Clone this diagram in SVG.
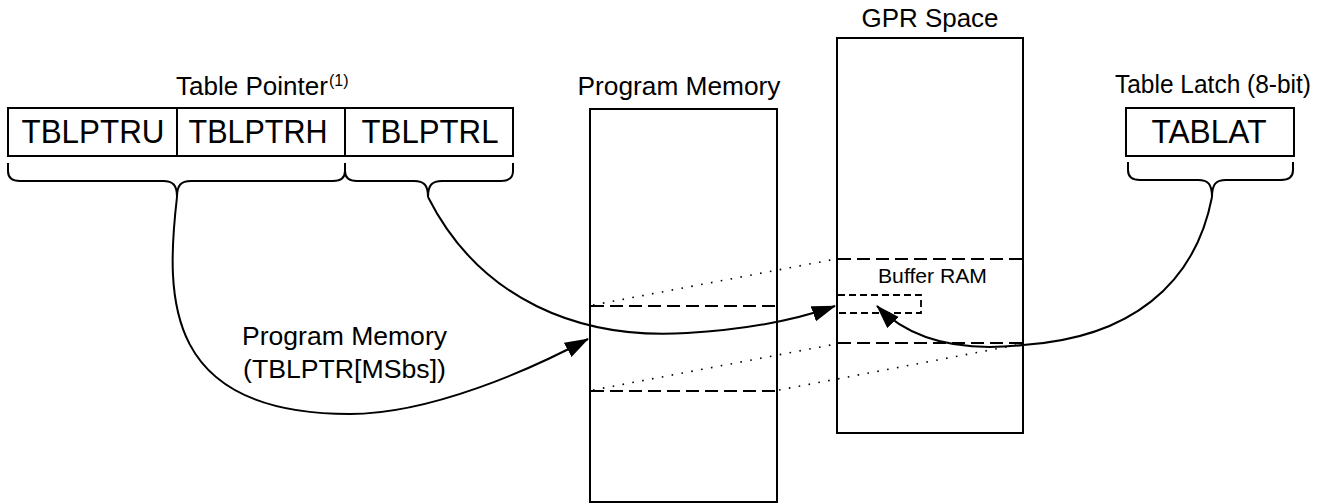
<svg xmlns="http://www.w3.org/2000/svg" width="1322" height="504" viewBox="0 0 1322 504">
<style>
  text { font-family: "Liberation Sans", Arial, Helvetica, sans-serif; fill: #000; }
  .lbl { font-size: 26px; }
  .reg { font-size: 33px; text-anchor: middle; }
  .box { fill: #fff; stroke: #000; stroke-width: 2; }
  .brace { fill: none; stroke: #000; stroke-width: 2; }
  .dash { stroke: #000; stroke-width: 2; stroke-dasharray: 13 6; fill: none; }
  .sdash { stroke: #000; stroke-width: 1.8; stroke-dasharray: 7 4; fill: none; }
  .dot { stroke: #000; stroke-width: 1.6; stroke-dasharray: 1.6 8.4; fill: none; }
  .conn { fill: none; stroke: #000; stroke-width: 2; }
</style>
<defs>
  <marker id="arrow" markerUnits="userSpaceOnUse" markerWidth="26" markerHeight="18" refX="23" refY="8" orient="auto">
    <path d="M0,0 L24,8 L0,16 z" fill="#000"/>
  </marker>
</defs>
<rect width="1322" height="504" fill="#fff"/>

<g id="table-pointer">
  <text class="lbl" x="176" y="95" textLength="152" lengthAdjust="spacingAndGlyphs">Table Pointer</text>
  <text x="329" y="86" font-size="16">(1)</text>
  <rect class="box" x="8" y="108" width="505" height="48"/>
  <line x1="177" y1="108" x2="177" y2="156" stroke="#000" stroke-width="2"/>
  <line x1="345" y1="108" x2="345" y2="156" stroke="#000" stroke-width="2"/>
  <text class="reg" x="93" y="143" textLength="143" lengthAdjust="spacingAndGlyphs">TBLPTRU</text>
  <text class="reg" x="258" y="143" textLength="139" lengthAdjust="spacingAndGlyphs">TBLPTRH</text>
  <text class="reg" x="430" y="143" textLength="137" lengthAdjust="spacingAndGlyphs">TBLPTRL</text>
  <path class="brace" d="M8,163 L8,171 Q8,181 20,181 L163,181 C173,181 177,185 177,197 C177,185 181,181 191,181 L333,181 Q345,181 345,171 L345,163"/>
  <path class="brace" d="M345,163 L345,171 Q345,181 357,181 L414,181 C424,181 428,185 428,197 C428,185 432,181 442,181 L501,181 Q513,181 513,171 L513,163"/>
</g>

<g id="program-memory">
  <text class="lbl" x="679" y="95" text-anchor="middle" textLength="203" lengthAdjust="spacingAndGlyphs">Program Memory</text>
  <rect class="box" x="590" y="109" width="187" height="393"/>
  <line class="dash" x1="591" y1="306" x2="775" y2="306"/>
  <line class="dash" x1="591" y1="391" x2="775" y2="391"/>
</g>

<g id="gpr-space">
  <text class="lbl" x="930" y="27" text-anchor="middle" textLength="137" lengthAdjust="spacingAndGlyphs">GPR Space</text>
  <rect class="box" x="837" y="38" width="186" height="395"/>
  <line class="dash" x1="838" y1="259" x2="1022" y2="259"/>
  <line class="dash" x1="838" y1="343" x2="1022" y2="343"/>
  <text x="878" y="283" font-size="21" textLength="109" lengthAdjust="spacingAndGlyphs">Buffer RAM</text>
  <path class="sdash" d="M838,295 L921,295 L921,313 L838,313"/>
</g>

<g id="table-latch">
  <text class="lbl" x="1213" y="93" text-anchor="middle" textLength="196" lengthAdjust="spacingAndGlyphs">Table Latch (8-bit)</text>
  <rect class="box" x="1126" y="108" width="168" height="48"/>
  <text class="reg" x="1209" y="143" textLength="115" lengthAdjust="spacingAndGlyphs">TABLAT</text>
  <path class="brace" d="M1128,162 L1128,170 Q1128,180 1140,180 L1198,180 C1208,180 1212,184 1212,197 C1212,184 1216,180 1226,180 L1281,180 Q1293,180 1293,170 L1293,162"/>
</g>

<g id="connectors">
  <line class="dot" x1="593" y1="305" x2="836" y2="259"/>
  <line class="dot" x1="593" y1="390" x2="836" y2="344"/>
  <line class="dot" x1="779" y1="390" x2="1022" y2="344"/>
  <path class="conn" d="M177,197 C165,300 165,414 350,414 C430,414 530,370 588,339" marker-end="url(#arrow)"/>
  <path class="conn" d="M428,197 C480,300 580,340 687,333 C740,330 790,322 835,306" marker-end="url(#arrow)"/>
  <path class="conn" d="M1212,197 C1195,285 1130,338 1023,345 C960,352 910,340 877,306" marker-end="url(#arrow)"/>
  <text class="lbl" x="242" y="345" textLength="205" lengthAdjust="spacingAndGlyphs">Program Memory</text>
  <text class="lbl" x="243" y="378" textLength="203" lengthAdjust="spacingAndGlyphs">(TBLPTR[MSbs])</text>
</g>
</svg>
